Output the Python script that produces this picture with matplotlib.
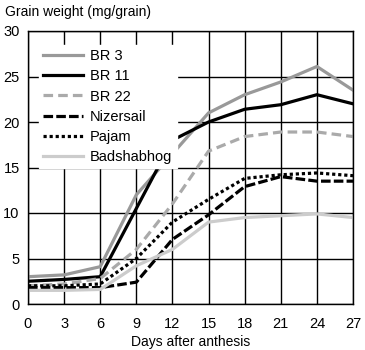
import matplotlib
matplotlib.use("Agg")
import matplotlib.pyplot as plt

days = [0, 3, 6, 9, 12, 15, 18, 21, 24, 27]
br3 = [3.0, 3.2, 4.1, 12.0, 16.5, 21.0, 23.0, 24.4, 26.1, 23.5]
br11 = [2.5, 2.7, 3.0, 10.5, 18.0, 20.0, 21.4, 21.9, 23.0, 22.0]
br22 = [2.0, 2.2, 2.8, 6.0, 11.0, 16.8, 18.4, 18.9, 18.9, 18.4]
nizersail = [1.8, 1.8, 1.8, 2.4, 7.1, 9.8, 12.9, 14.0, 13.5, 13.5]
pajam = [2.0, 2.0, 2.2, 5.0, 9.0, 11.5, 13.8, 14.2, 14.4, 14.1]
badshabhog = [1.5, 1.5, 1.6, 4.2, 6.0, 9.0, 9.5, 9.7, 9.9, 9.5]

xticks = [0, 3, 6, 9, 12, 15, 18, 21, 24, 27]
yticks = [0, 5, 10, 15, 20, 25, 30]

plt.rcParams['font.family'] = ['Liberation Sans', 'DejaVu Sans']

fig = plt.figure(figsize=(3.65, 3.5), dpi=100)
ax = fig.add_axes([28/365, 46/350, 325/365, 273/350])

lw = 2.3
ax.plot(days, br3, color='#999999', lw=lw, label='BR 3')
ax.plot(days, br11, color='black', lw=lw, label='BR 11')
ax.plot(days, br22, color='#aaaaaa', lw=lw, ls=(0, (3, 1.6)), label='BR 22')
ax.plot(days, nizersail, color='black', lw=lw, ls=(0, (3, 1)), label='Nizersail')
ax.plot(days, pajam, color='black', lw=lw, ls=(0, (1, 0.9)), label='Pajam')
ax.plot(days, badshabhog, color='#cccccc', lw=lw, label='Badshabhog')

ax.set_xlim(0, 27)
ax.set_ylim(0, 30)
ax.set_xticks(xticks)
ax.set_yticks(yticks)
ax.grid(True, color='black', lw=1)
ax.set_axisbelow(True)
ax.tick_params(length=0, labelsize=10.5, pad=9)
ax.tick_params(axis='y', pad=6)
for s in ax.spines.values():
    s.set_linewidth(1)
ax.set_xlabel('Days after anthesis', fontsize=10, labelpad=3)
fig.text(5/365, 1 - 12/350, 'Grain weight (mg/grain)', fontsize=10, va='center', ha='left')

leg = ax.legend(loc='upper left', frameon=True, fontsize=10.5, handlelength=2.7,
                handletextpad=0.5, borderpad=0.3,
                borderaxespad=0.3, labelspacing=0.42, facecolor='white', edgecolor='white',
                framealpha=1, fancybox=False, bbox_to_anchor=(0.02, 0.965))

fig.savefig('out.png', dpi=100)
